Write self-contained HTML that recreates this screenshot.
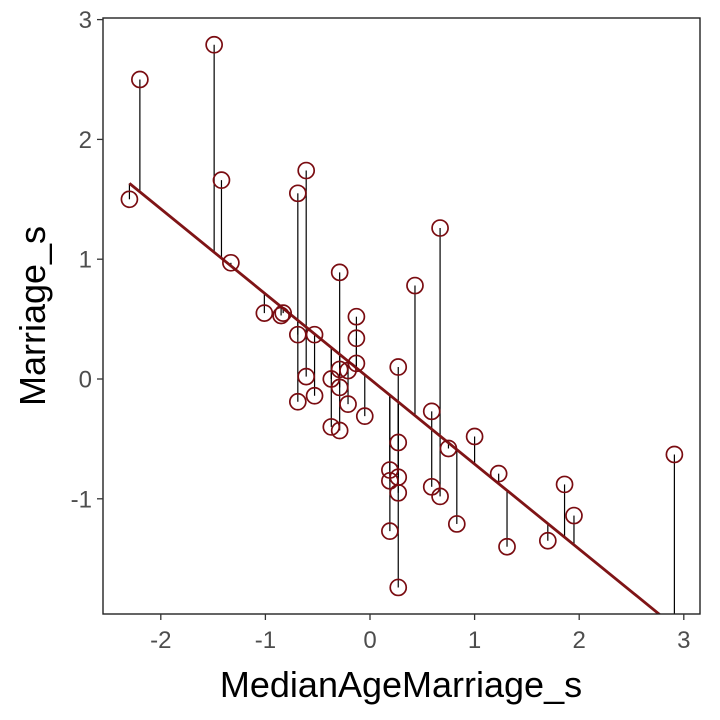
<!DOCTYPE html>
<html><head><meta charset="utf-8"><style>
body{margin:0;background:#fff;}
svg{display:block;font-family:"Liberation Sans",sans-serif;}
</style></head><body>
<svg id="c" width="720" height="720"></svg>
<script>
const xs=[-2.2,-2.3,-1.49,-1.42,-1.33,-1.01,-0.85,-0.83,-0.69,-0.61,-0.69,-0.53,-0.61,-0.69,-0.53,-0.29,-0.13,-0.13,-0.13,-0.37,-0.29,-0.21,-0.29,-0.21,-0.37,-0.29,-0.05,0.27,0.27,0.19,0.19,0.27,0.27,0.19,0.27,0.43,0.67,0.59,0.59,0.67,0.75,0.83,1.0,1.23,1.31,1.70,1.86,1.95,2.91];
const ys=[2.5,1.5,2.79,1.66,0.97,0.55,0.53,0.55,1.55,1.74,0.37,0.37,0.02,-0.19,-0.14,0.89,0.52,0.34,0.13,0.0,0.08,0.07,-0.07,-0.21,-0.40,-0.43,-0.31,0.10,-0.53,-0.76,-0.85,-0.82,-0.95,-1.27,-1.74,0.78,1.26,-0.27,-0.90,-0.98,-0.58,-1.21,-0.48,-0.79,-1.40,-1.35,-0.88,-1.14,-0.63];
const intercept=0.0, slope=-0.71;
const xTicks=[-2,-1,0,1,2,3];
const yTicks=[-1,0,1,2,3];
const L=103,R=700,T=18,B=614;
const X=v=>370+v*104.6, Y=v=>379-v*119.8;
const ns="http://www.w3.org/2000/svg", svg=document.getElementById('c');
function mk(t,a,p){const e=document.createElementNS(ns,t);for(const k in a)e.setAttribute(k,a[k]);(p||svg).appendChild(e);return e;}
const defs=mk('defs',{});const cp=mk('clipPath',{id:'cp'},defs);mk('rect',{x:L,y:T,width:R-L,height:B-T},cp);
const g=mk('g',{'clip-path':'url(#cp)'});


xs.forEach((x,i)=>{const s=mk('line',{x1:X(x),x2:X(x),y1:Y(ys[i]),y2:Y(intercept+slope*x),stroke:'#000','stroke-width':1.2},g);

});
const x0=-2.3,x1=2.93;
const ln=mk('line',{x1:X(x0),y1:Y(intercept+slope*x0),x2:X(x1),y2:Y(intercept+slope*x1),stroke:'#7f1416','stroke-width':2.8},g);


xs.forEach((x,i)=>{const c=mk('circle',{cx:X(x),cy:Y(ys[i]),r:8,fill:'none',stroke:'#7a0c11','stroke-width':1.7},g);

});
const fr=mk('rect',{x:L,y:T,width:R-L,height:B-T,fill:'none',stroke:'#222','stroke-width':1.4});


xTicks.forEach(v=>{mk('line',{x1:X(v),x2:X(v),y1:B,y2:B+6,stroke:'#333','stroke-width':1.3});
const t=mk('text',{x:X(v),y:B+34,'text-anchor':'middle','font-size':24,fill:'#4d4d4d'});t.textContent=v<0?'-'+(-v):v;

});
yTicks.forEach(v=>{mk('line',{x1:L-6,x2:L,y1:Y(v),y2:Y(v),stroke:'#333','stroke-width':1.3});
const t=mk('text',{x:L-11,y:Y(v)+8.5,'text-anchor':'end','font-size':24,fill:'#4d4d4d'});t.textContent=v<0?'-'+(-v):v;

});
const xt=mk('text',{x:401,y:697,'text-anchor':'middle','font-size':36,fill:'#000'});xt.textContent='MedianAgeMarriage_s';


const yt=mk('text',{x:0,y:0,'text-anchor':'middle','font-size':36,fill:'#000',transform:'translate(45,316) rotate(-90)'});yt.textContent='Marriage_s';


</script>
</body></html>
